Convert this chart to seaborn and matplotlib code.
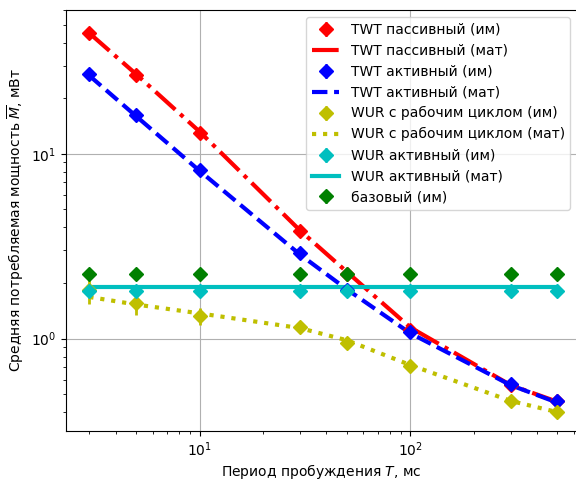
import matplotlib
matplotlib.use("Agg")
import matplotlib.pyplot as plt
import seaborn as sns
import numpy as np
import pandas as pd

T = [3, 5, 10, 30, 50, 100, 300, 500]

twt_pass_sim = [45.0, 26.7, 13.0, 3.8, 2.25, 1.12, 0.56, 0.46]
twt_pass_sim_err = [0.8, 0.5, 0.4, 0.1, 0.06, 0.03, 0.02, 0.01]
twt_pass_mod = [45.0, 27.0, 13.2, 3.85, 2.3, 1.15, 0.56, 0.455]

twt_act_sim = [27.0, 16.3, 8.2, 2.92, 1.84, 1.08, 0.57, 0.46]
twt_act_sim_err = [0.6, 0.4, 0.3, 0.08, 0.05, 0.03, 0.02, 0.01]
twt_act_mod = [26.5, 16.0, 8.1, 2.85, 1.85, 1.07, 0.56, 0.45]

wur_dc_sim = [1.84, 1.55, 1.33, 1.15, 0.95, 0.71, 0.46, 0.40]
wur_dc_sim_err = [0.3, 0.2, 0.14, 0.03, 0.03, 0.02, 0.01, 0.01]
wur_dc_mod = [1.68, 1.53, 1.37, 1.14, 0.98, 0.72, 0.46, 0.40]

wur_act_sim = [1.82, 1.82, 1.82, 1.82, 1.82, 1.82, 1.82, 1.82]
wur_act_sim_err = [0.02, 0.02, 0.02, 0.02, 0.02, 0.02, 0.02, 0.02]
wur_act_mod = [1.91, 1.91, 1.91, 1.91, 1.91, 1.91, 1.91, 1.91]

base_sim = [2.25, 2.25, 2.25, 2.25, 2.25, 2.25, 2.25, 2.25]
base_sim_err = [0.02, 0.02, 0.02, 0.02, 0.02, 0.02, 0.02, 0.02]

plt.rcParams['font.family'] = ['DejaVu Sans']

fig = plt.figure(figsize=(5.76, 4.8), dpi=100)
ax = fig.add_axes([0.115, 0.103, 0.887, 0.876])

handles = []

def sim(y, err, color, label):
    h = ax.errorbar(T, y, yerr=err, fmt='D', color=color, ms=7,
                    elinewidth=2, capsize=0, label=label, zorder=3)
    handles.append(h)

def mod(y, color, ls, label):
    df = pd.DataFrame({"T": T, "M": y})
    sns.lineplot(data=df, x="T", y="M", ax=ax, color=color, linestyle=ls,
                 linewidth=3, legend=False)
    ln = ax.lines[-1]
    ln.set_label(label)
    handles.append(ln)

sim(twt_pass_sim, twt_pass_sim_err, 'r', 'TWT пассивный (им)')
mod(twt_pass_mod, 'r', '-.', 'TWT пассивный (мат)')
sim(twt_act_sim, twt_act_sim_err, 'b', 'TWT активный (им)')
mod(twt_act_mod, 'b', '--', 'TWT активный (мат)')
sim(wur_dc_sim, wur_dc_sim_err, 'y', 'WUR с рабочим циклом (им)')
mod(wur_dc_mod, 'y', ':', 'WUR с рабочим циклом (мат)')
sim(wur_act_sim, wur_act_sim_err, 'c', 'WUR активный (им)')
mod(wur_act_mod, 'c', '-', 'WUR активный (мат)')
sim(base_sim, base_sim_err, 'g', 'базовый (им)')

ax.set_xscale('log')
ax.set_yscale('log')
ax.set_xlim(2.33, 620)
ax.set_ylim(0.318, 60)
ax.grid(True, which='major', color='#b0b0b0', linewidth=0.8)
ax.set_xlabel('Период пробуждения $T$, мс', labelpad=2)
ax.set_ylabel('Средняя потребляемая мощность $\\overline{M}$, мВт')
ax.legend(handles=handles, labels=[h.get_label() for h in handles],
          loc='upper right')

fig.savefig('out.png', dpi=100)
